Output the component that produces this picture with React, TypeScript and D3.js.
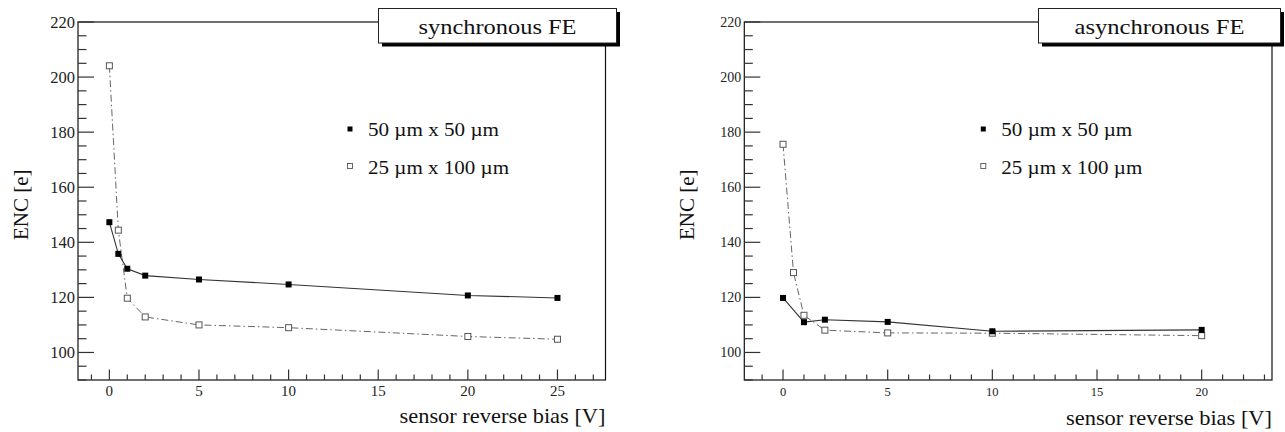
import React from 'react';
import * as d3 from 'd3';

// bias voltages [V] and ENC [e]
const syncBias50 = [0, 0.5, 1, 2, 5, 10, 20, 25];
const syncEnc50 = [147.3, 135.8, 130.4, 127.9, 126.5, 124.7, 120.7, 119.8];
const syncBias25 = [0, 0.5, 1, 2, 5, 10, 20, 25];
const syncEnc25 = [204.1, 144.4, 119.7, 112.9, 110.0, 109.0, 105.8, 104.8];

const asyncBias50 = [0, 1, 2, 5, 10, 20];
const asyncEnc50 = [119.8, 111.0, 111.9, 111.1, 107.7, 108.2];
const asyncBias25 = [0, 0.5, 1, 2, 5, 10, 20];
const asyncEnc25 = [175.6, 129.0, 113.5, 108.1, 107.1, 107.0, 106.1];

const yTicks = [100, 120, 140, 160, 180, 200, 220];
const syncXTicks = [0, 5, 10, 15, 20, 25];
const asyncXTicks = [0, 5, 10, 15, 20];
const legendLabels = ['50 \u00b5m x 50 \u00b5m', '25 \u00b5m x 100 \u00b5m'];

const FONT = "'Liberation Serif', 'Times New Roman', Times, serif";

interface PanelProps {
  title: string;
  left: number;
  right: number;
  xDomain: [number, number];
  xTicks: number[];
  filled: { x: number[]; y: number[] };
  open: { x: number[]; y: number[] };
  yFont: number;
  xFont: number;
  titleBox: { x0: number; x1: number; textLen: number };
  legendX: number;
  xLabelY: number;
}

const Panel: React.FC<PanelProps> = ({
  title, left, right, xDomain, xTicks, filled, open, yFont, xFont, titleBox, legendX, xLabelY,
}) => {
  const top = 22;
  const bottom = 380;
  const x = d3.scaleLinear().domain(xDomain).range([left, right]);
  const y = d3.scaleLinear().domain([90, 220]).range([bottom, top]);

  const yMinor = d3.range(90, 221, 5).filter(v => v % 20 !== 0);
  const xMinor = d3.range(Math.ceil(xDomain[0]), Math.floor(xDomain[1]) + 1).filter(v => v % 5 !== 0);

  const line = d3.line<[number, number]>().x(d => x(d[0])).y(d => y(d[1]));
  const filledPts = filled.x.map((v, i) => [v, filled.y[i]] as [number, number]);
  const openPts = open.x.map((v, i) => [v, open.y[i]] as [number, number]);

  const ms = 6;
  const bw = titleBox.x1 - titleBox.x0;
  const txt = { fontFamily: FONT };

  return (
    <g>
      {/* frame */}
      <rect x={left} y={top} width={right - left} height={bottom - top} fill="none" stroke="#111" strokeWidth={1.2} />

      {/* y ticks */}
      {yTicks.map(t => (
        <g key={'y' + t}>
          <line x1={left} x2={left + 16} y1={y(t)} y2={y(t)} stroke="#333" strokeWidth={1.2} />
          <text x={left - 3} y={y(t)} dy="0.35em" textAnchor="end" fontSize={yFont} style={txt} fill="#222">{t}</text>
        </g>
      ))}
      {yMinor.map(t => (
        <line key={'ym' + t} x1={left} x2={left + 8.5} y1={y(t)} y2={y(t)} stroke="#333" strokeWidth={1.2} />
      ))}

      {/* x ticks */}
      {xTicks.map(t => (
        <g key={'x' + t}>
          <line x1={x(t)} x2={x(t)} y1={bottom} y2={bottom - 10.5} stroke="#333" strokeWidth={1.2} />
          <text x={x(t)} y={bottom + 16} textAnchor="middle" fontSize={xFont} style={txt} fill="#222">{t}</text>
        </g>
      ))}
      {xMinor.map(t => (
        <line key={'xm' + t} x1={x(t)} x2={x(t)} y1={bottom} y2={bottom - 5.5} stroke="#333" strokeWidth={1.2} />
      ))}

      {/* series */}
      <path d={line(openPts) || ''} fill="none" stroke="#666" strokeWidth={1} strokeDasharray="7,3,1.5,3" />
      <path d={line(filledPts) || ''} fill="none" stroke="#333" strokeWidth={1.1} />
      {openPts.map((p, i) => (
        <rect key={'o' + i} x={x(p[0]) - ms / 2} y={y(p[1]) - ms / 2} width={ms} height={ms} fill="#fff" stroke="#555" strokeWidth={1} />
      ))}
      {filledPts.map((p, i) => (
        <rect key={'f' + i} x={x(p[0]) - ms / 2} y={y(p[1]) - ms / 2} width={ms} height={ms} fill="#000" />
      ))}

      {/* legend */}
      <rect x={legendX - 2.5} y={129 - 2.5} width={5} height={5} fill="#000" />
      <text x={legendX + 18} y={136} fontSize={18.5} style={txt} fill="#111" textLength={131} lengthAdjust="spacingAndGlyphs">{legendLabels[0]}</text>
      <rect x={legendX - 2.5} y={166 - 2.5} width={5} height={5} fill="#fff" stroke="#555" strokeWidth={0.9} />
      <text x={legendX + 18} y={174} fontSize={18.5} style={txt} fill="#111" textLength={141} lengthAdjust="spacingAndGlyphs">{legendLabels[1]}</text>

      {/* title box */}
      <rect x={titleBox.x0 + 3.5} y={12} width={bw} height={34.5} fill="#000" />
      <rect x={titleBox.x0} y={8.5} width={bw} height={34.5} fill="#fff" stroke="#222" strokeWidth={1} />
      <text x={(titleBox.x0 + titleBox.x1) / 2} y={33.5} textAnchor="middle" fontSize={22} style={txt} fill="#111"
        textLength={titleBox.textLen} lengthAdjust="spacingAndGlyphs">{title}</text>

      {/* axis titles */}
      <text x={right} y={xLabelY} textAnchor="end" fontSize={22} style={txt} fill="#111"
        textLength={206} lengthAdjust="spacingAndGlyphs">sensor reverse bias [V]</text>
      <text transform={`translate(${left - 50},240) rotate(-90)`} fontSize={21} style={txt} fill="#111">ENC [e]</text>
    </g>
  );
};

export default function App() {
  return (
    <svg width={1285} height={432} style={{ position: 'absolute', left: 0, top: 0, background: '#fff' }}>
      <Panel
        title="synchronous FE"
        left={78}
        right={605.5}
        xDomain={[-1.75, 27.68]}
        xTicks={syncXTicks}
        filled={{ x: syncBias50, y: syncEnc50 }}
        open={{ x: syncBias25, y: syncEnc25 }}
        yFont={16.5}
        xFont={15}
        titleBox={{ x0: 378.5, x1: 616.5, textLen: 158 }}
        legendX={350}
        xLabelY={423}
      />
      <Panel
        title="asynchronous FE"
        left={744.3}
        right={1272}
        xDomain={[-1.85, 23.36]}
        xTicks={asyncXTicks}
        filled={{ x: asyncBias50, y: asyncEnc50 }}
        open={{ x: asyncBias25, y: asyncEnc25 }}
        yFont={14}
        xFont={12.5}
        titleBox={{ x0: 1038.5, x1: 1280.5, textLen: 170 }}
        legendX={983.3}
        xLabelY={425}
      />
    </svg>
  );
}
